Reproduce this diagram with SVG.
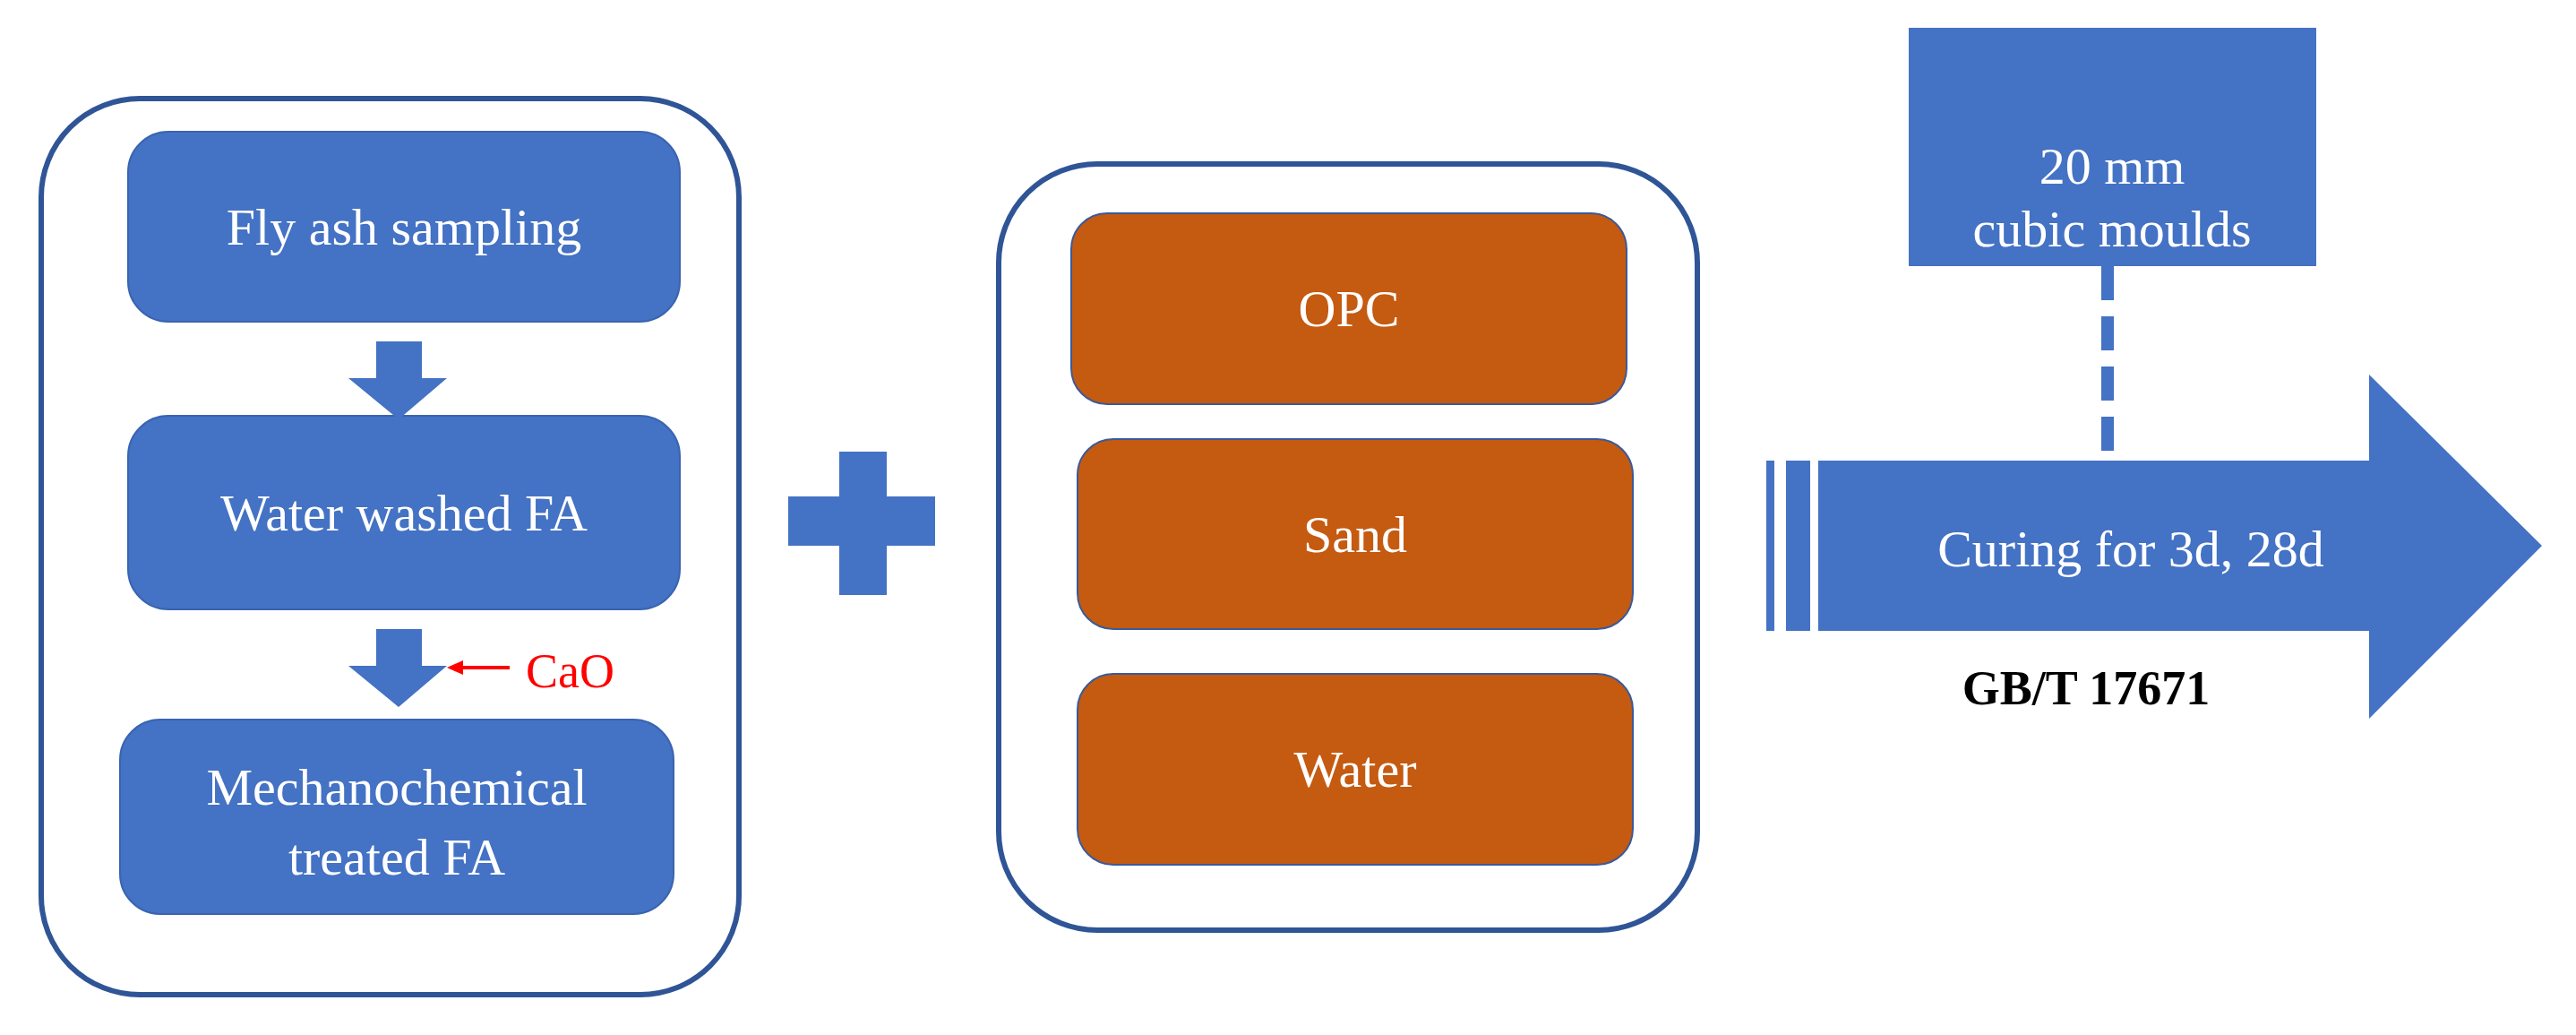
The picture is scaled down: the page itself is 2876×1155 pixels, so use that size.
<svg xmlns="http://www.w3.org/2000/svg" width="2876" height="1155" viewBox="0 0 2876 1155">
<style>
.outer{fill:#fff;stroke:#2F5597;stroke-width:6}
.blue{fill:#4472C4;stroke:#3A64B0;stroke-width:2}
.orange{fill:#C55A11;stroke:#3A5A99;stroke-width:2}
.t{font-family:"Liberation Serif",serif;font-size:58px;fill:#fff;text-anchor:middle}
.fill{fill:#4472C4}
</style>
<rect width="2876" height="1155" fill="#fff"/>
<g id="left-group">
<rect class="outer" x="46" y="110" width="779" height="1000" rx="110"/>
</g>
<g id="fly-ash"><rect class="blue" x="143" y="147" width="616" height="212" rx="45"/><text class="t" x="451" y="273">Fly ash sampling</text></g>
<g id="water-washed"><rect class="blue" x="143" y="464" width="616" height="216" rx="45"/><text class="t" x="451" y="592">Water washed FA</text></g>
<g id="mech"><rect class="blue" x="134" y="803" width="618" height="217" rx="45"/><text class="t" x="443" y="898">Mechanochemical</text><text class="t" x="443" y="976">treated FA</text></g>
<g id="plus"><rect class="fill" x="937" y="504" width="53" height="160"/><rect class="fill" x="880" y="554" width="164" height="55"/></g>
<g id="mix-group"><rect class="outer" x="1115" y="183" width="780" height="855" rx="110"/></g>
<g id="opc"><rect class="orange" x="1196" y="238" width="620" height="213" rx="40"/><text class="t" x="1506" y="364">OPC</text></g>
<g id="sand"><rect class="orange" x="1203" y="490" width="620" height="212" rx="40"/><text class="t" x="1513" y="616">Sand</text></g>
<g id="water"><rect class="orange" x="1203" y="752" width="620" height="213" rx="40"/><text class="t" x="1513" y="878">Water</text></g>
<g id="moulds"><rect class="fill" x="2131" y="31" width="455" height="266"/><text class="t" x="2358" y="205">20 mm</text><text class="t" x="2358" y="275">cubic moulds</text></g>
<g id="curing">
<rect class="fill" x="1972" y="514" width="9" height="190"/>
<rect class="fill" x="1994" y="514" width="27" height="190"/>
<polygon class="fill" points="2030,514 2645,514 2645,418 2838,609 2645,802 2645,704 2030,704"/>
<text class="t" x="2379" y="632">Curing for 3d, 28d</text>
</g>
<g id="standard"><text x="2329" y="786" font-family="Liberation Serif,serif" font-size="54" font-weight="bold" text-anchor="middle" fill="#000">GB/T 17671</text></g>
<g id="connectors">
<polygon class="fill" points="420,381 471,381 471,422 499,422 445,468 389,422 420,422"/>
<polygon class="fill" points="420,702 471,702 471,743 499,743 445,789 389,743 420,743"/>
<line x1="569" y1="745" x2="515" y2="745" stroke="#FF0000" stroke-width="4"/>
<polygon points="499,745 517,737 517,753" fill="#FF0000"/>
<line x1="2353" y1="297" x2="2353" y2="512" stroke="#4472C4" stroke-width="14" stroke-dasharray="38,18"/>
</g>
<text x="587" y="767" font-family="Liberation Serif,serif" font-size="54" fill="#FF0000">CaO</text>
</svg>
